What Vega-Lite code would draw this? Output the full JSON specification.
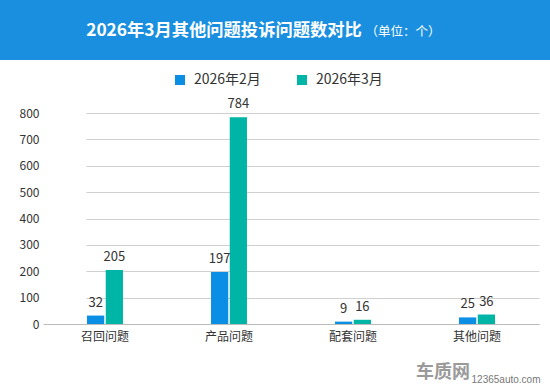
{
  "$schema": "https://vega.github.io/schema/vega-lite/v6.json",
  "padding": 0,
  "background": "white",
  "spacing": 13,
  "config": {
    "view": {"stroke": null},
    "font": "Noto Sans CJK SC"
  },
  "resolve": {"legend": {"color": "independent"}, "scale": {"color": "independent"}},
  "vconcat": [
    {
      "width": 550,
      "height": 60,
      "view": {"fill": "#1a8fdf", "stroke": null},
      "data": {"values": [{"main": "2026年3月其他问题投诉问题数对比", "unit": "（单位：个）"}]},
      "layer": [
        {
          "mark": {"type": "text", "color": "white", "fontSize": 17.3, "fontWeight": "bold", "dx": -51, "baseline": "middle", "dy": 1},
          "encoding": {"text": {"field": "main"}}
        },
        {
          "mark": {"type": "text", "color": "white", "fontSize": 12.5, "dx": 128, "baseline": "middle", "dy": 2},
          "encoding": {"text": {"field": "unit"}}
        }
      ]
    },
    {
      "width": 547,
      "height": 211,
      "title": {"text": "车质网", "orient": "bottom", "anchor": "end", "frame": "group", "dx": -77, "dy": -20, "offset": 0, "fontSize": 18, "fontWeight": "bold", "color": "#9a9a9a"},
      "data": {
        "values": [
          {"category": "召回问题", "month": "2026年2月", "count": 32},
          {"category": "召回问题", "month": "2026年3月", "count": 205},
          {"category": "产品问题", "month": "2026年2月", "count": 197},
          {"category": "产品问题", "month": "2026年3月", "count": 784},
          {"category": "配套问题", "month": "2026年2月", "count": 9},
          {"category": "配套问题", "month": "2026年3月", "count": 16},
          {"category": "其他问题", "month": "2026年2月", "count": 25},
          {"category": "其他问题", "month": "2026年3月", "count": 36}
        ]
      },
      "encoding": {
        "x": {
          "field": "category",
          "type": "nominal",
          "sort": ["召回问题", "产品问题", "配套问题", "其他问题"],
          "scale": {"range": [43, 539], "paddingInner": 0.71, "paddingOuter": 0.355},
          "axis": {
            "title": "12365auto.com",
            "titleFontSize": 10,
            "titleFontWeight": "normal",
            "titleColor": "#777",
            "titleFont": "Liberation Sans",
            "titleAnchor": "end",
            "titleAlign": "right",
            "titleX": 540,
            "titleY": 50,
            "labelAngle": 0,
            "labelFontSize": 12,
            "labelColor": "#333",
            "labelPadding": 7,
            "ticks": false,
            "domain": true,
            "domainColor": "#bbbbbb",
            "domainWidth": 1,
            "zindex": 1,
            "grid": false
          }
        },
        "xOffset": {"field": "month", "type": "nominal", "scale": {"paddingInner": 0.08}},
        "y": {
          "field": "count",
          "type": "quantitative",
          "scale": {"domain": [0, 800], "nice": false},
          "axis": {
            "title": null,
            "offset": -43,
            "values": [0, 100, 200, 300, 400, 500, 600, 700, 800],
            "labelFontSize": 12,
            "labelColor": "#333",
            "labelPadding": 4,
            "ticks": false,
            "domain": false,
            "gridColor": "#d0d0d0",
            "gridDash": [0, 43, 504, 20]
          }
        }
      },
      "layer": [
        {
          "mark": {"type": "bar"},
          "encoding": {
            "color": {
              "field": "month",
              "type": "nominal",
              "scale": {"domain": ["2026年2月", "2026年3月"], "range": ["#0b8fe5", "#00b5a6"]},
              "legend": {
                "title": null,
                "orient": "none",
                "direction": "horizontal",
                "legendX": 173,
                "legendY": -40,
                "symbolType": "square",
                "symbolSize": 100,
                "symbolStrokeWidth": 0,
                "labelFontSize": 14,
                "labelColor": "#333",
                "labelOffset": 7,
                "columnPadding": 34
              }
            }
          }
        },
        {
          "mark": {"type": "text", "dy": -13, "fontSize": 13, "color": "#333", "baseline": "middle"},
          "encoding": {"text": {"field": "count", "type": "quantitative"}}
        }
      ]
    }
  ]
}
